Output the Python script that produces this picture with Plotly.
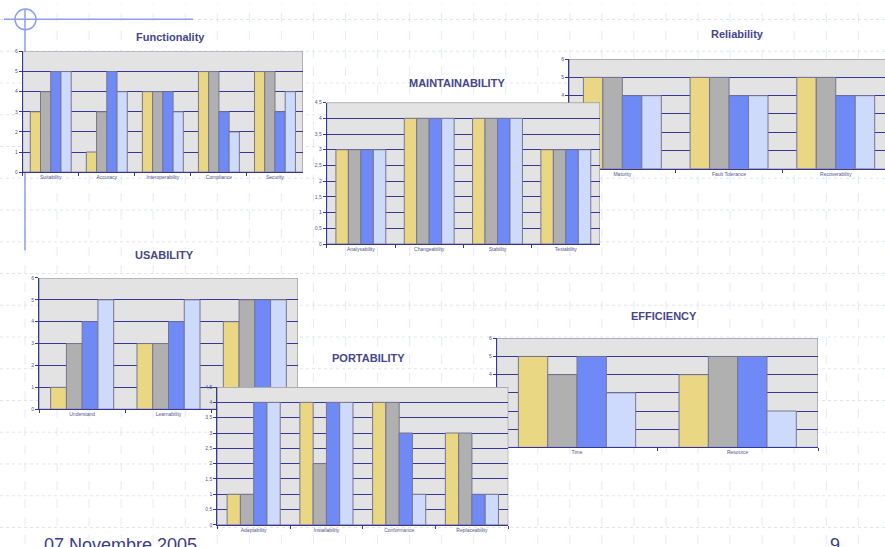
import plotly.graph_objects as go

W, H = 885, 547

# ---------------- data ----------------
series_names = ["S1", "S2", "S3", "S4"]

func_cats = ["Suitability", "Accuracy", "Interoperability", "Compliance", "Security"]
func_s1 = [3, 1, 4, 5, 5]
func_s2 = [4, 3, 4, 5, 5]
func_s3 = [5, 5, 4, 3, 3]
func_s4 = [5, 4, 3, 2, 4]

rel_cats = ["Maturity", "Fault Tolerance", "Recoverability"]
rel_s1 = [5, 5, 5]
rel_s2 = [5, 5, 5]
rel_s3 = [4, 4, 4]
rel_s4 = [4, 4, 4]

main_cats = ["Analysability", "Changeability", "Stability", "Testability"]
main_s1 = [3, 4, 4, 3]
main_s2 = [3, 4, 4, 3]
main_s3 = [3, 4, 4, 3]
main_s4 = [3, 4, 4, 3]

usa_cats = ["Understand", "Learnability", "Operability"]
usa_s1 = [1, 3, 4]
usa_s2 = [3, 3, 5]
usa_s3 = [4, 4, 5]
usa_s4 = [5, 5, 5]

eff_cats = ["Time", "Resource"]
eff_s1 = [5, 4]
eff_s2 = [4, 5]
eff_s3 = [5, 5]
eff_s4 = [3, 2]

port_cats = ["Adaptability", "Installability", "Conformance", "Replaceability"]
port_s1 = [1, 4, 4, 3]
port_s2 = [1, 2, 4, 3]
port_s3 = [4, 4, 3, 1]
port_s4 = [4, 4, 1, 1]

ticks6_vals = [0, 1, 2, 3, 4, 5, 6]
ticks6_text = ["0", "1", "2", "3", "4", "5", "6"]
ticks45_vals = [0, 0.5, 1, 1.5, 2, 2.5, 3, 3.5, 4, 4.5]
ticks45_text = ["0", "0,5", "1", "1,5", "2", "2,5", "3", "3,5", "4", "4,5"]

footer_date = "07 Novembre 2005"
footer_page = "9"

# ---------------- styles ----------------
FONT = "Liberation Sans, Arial, sans-serif"
NAVY = "#35359a"
TITLE_C = "#46468c"
LABEL_C = "#55558e"
PLOT_BG = "#e3e3e3"
BORDER = "#808088"
BAR_COLORS = ["#ead784", "#b0b0b0", "#6f8af6", "#cddafb"]
BAR_LINE = "#767690"

# chart boxes in pixels: (x_left, x_right, y_top, y_bottom)
charts = [
    dict(title="Functionality", cats=func_cats, s=[func_s1, func_s2, func_s3, func_s4],
         box=(22.7, 303, 49, 171), ymax=6, tv=ticks6_vals, tt=ticks6_text,
         title_xy=(170, 34), xend=None),
    dict(title="Reliability", cats=rel_cats, s=[rel_s1, rel_s2, rel_s3, rel_s4],
         box=(569, 885, 56.7, 167.7), ymax=6, tv=ticks6_vals, tt=ticks6_text,
         title_xy=(737, 31), xend=(885 - 569) / 106.7 - 0.5),
    dict(title="MAINTAINABILITY", cats=main_cats, s=[main_s1, main_s2, main_s3, main_s4],
         box=(326.7, 600, 100.7, 243.7), ymax=4.5, tv=ticks45_vals, tt=ticks45_text,
         title_xy=(457, 81), xend=None),
    dict(title="USABILITY", cats=usa_cats, s=[usa_s1, usa_s2, usa_s3, usa_s4],
         box=(39, 298, 278, 410.7), ymax=6, tv=ticks6_vals, tt=ticks6_text,
         title_xy=(164, 255), xend=None),
    dict(title="EFFICIENCY", cats=eff_cats, s=[eff_s1, eff_s2, eff_s3, eff_s4],
         box=(496.7, 818, 339, 449.3), ymax=6, tv=ticks6_vals, tt=ticks6_text,
         title_xy=(664, 316), xend=None),
    dict(title="PORTABILITY", cats=port_cats, s=[port_s1, port_s2, port_s3, port_s4],
         box=(217.3, 508.3, 388.3, 527.7), ymax=4.5, tv=ticks45_vals, tt=ticks45_text,
         title_xy=(368, 359), xend=None),
]


def px(x):
    return x / W


def py(y):
    return 1 - y / H


fig = go.Figure()
shapes = []
annotations = []

# background graph-paper lines (slide decoration)
xv = 25.0
while xv < W:
    shapes.append(dict(type="line", xref="paper", yref="paper", x0=px(xv), x1=px(xv),
                       y0=0, y1=1, layer="below",
                       line=dict(color="#e6e9fa", width=1, dash="dash")))
    xv += 32.05
yv = 16.7
while yv < H:
    shapes.append(dict(type="line", xref="paper", yref="paper", x0=0, x1=1,
                       y0=py(yv), y1=py(yv), layer="below",
                       line=dict(color="#e0e4f8", width=1, dash="dot")))
    yv += 32.1

# template ornament
ORN = "#8c9ff2"
shapes.append(dict(type="line", xref="paper", yref="paper", x0=px(4), x1=px(193),
                   y0=py(16.5), y1=py(16.5), layer="below", line=dict(color=ORN, width=1.5)))
shapes.append(dict(type="line", xref="paper", yref="paper", x0=px(25), x1=px(25),
                   y0=py(6), y1=py(250), layer="below", line=dict(color=ORN, width=1.5)))
shapes.append(dict(type="circle", xref="paper", yref="paper", x0=px(15), x1=px(36),
                   y0=py(27), y1=py(6), layer="below", line=dict(color=ORN, width=1.5)))

layout_axes = {}
for i, c in enumerate(charts, start=1):
    xid = "x" if i == 1 else f"x{i}"
    yid = "y" if i == 1 else f"y{i}"
    xkey = "xaxis" if i == 1 else f"xaxis{i}"
    ykey = "yaxis" if i == 1 else f"yaxis{i}"
    n = len(c["cats"])
    xl, xr, yt, yb = c["box"]
    xend = c["xend"] if c["xend"] is not None else n - 0.5

    for k in range(4):
        fig.add_trace(go.Bar(
            x=c["cats"], y=c["s"][k], name=series_names[k],
            xaxis=xid, yaxis=yid, showlegend=False,
            marker=dict(color=BAR_COLORS[k], line=dict(color=BAR_LINE, width=1)),
        ))

    layout_axes[xkey] = dict(
        domain=[px(xl), px(xr)], anchor=yid, type="category",
        range=[-0.5, xend], tickson="boundaries", ticks="outside", ticklen=3,
        tickcolor=NAVY, tickwidth=1, showline=True, linecolor=NAVY, linewidth=1,
        showgrid=False, tickfont=dict(size=5, color=LABEL_C, family=FONT),
        fixedrange=True, categoryorder="array", categoryarray=c["cats"],
    )
    layout_axes[ykey] = dict(
        domain=[py(yb), py(yt)], anchor=xid, range=[0, c["ymax"]],
        tickmode="array", tickvals=c["tv"], ticktext=c["tt"],
        ticks="outside", ticklen=3, tickcolor=NAVY, tickwidth=1,
        showline=True, linecolor=NAVY, linewidth=1,
        showgrid=True, gridcolor=NAVY, gridwidth=1, zeroline=False,
        tickfont=dict(size=5, color=LABEL_C, family=FONT), fixedrange=True,
    )
    # plot area background (inside the subplot group so later charts cover earlier ones)
    shapes.append(dict(type="rect", xref=xid, yref=yid, x0=-0.5, x1=n - 0.5,
                       y0=0, y1=c["ymax"], layer="below",
                       fillcolor=PLOT_BG, line=dict(color=BORDER, width=1)))
    tx, ty = c["title_xy"]
    annotations.append(dict(text=f"<b>{c['title']}</b>", xref="paper", yref="paper",
                            x=px(tx), y=py(ty), xanchor="center", yanchor="middle",
                            showarrow=False,
                            font=dict(size=11, color=TITLE_C, family=FONT)))

annotations.append(dict(text=footer_date, xref="paper", yref="paper",
                        x=px(42), y=py(536), xanchor="left", yanchor="top",
                        showarrow=False, font=dict(size=18, color="#3c3c8c", family=FONT)))
annotations.append(dict(text=footer_page, xref="paper", yref="paper",
                        x=px(834.5), y=py(536), xanchor="center", yanchor="top",
                        showarrow=False, font=dict(size=18, color="#3c3c8c", family=FONT)))

fig.update_layout(
    width=W, height=H, autosize=False,
    margin=dict(l=0, r=0, t=0, b=0, pad=0),
    paper_bgcolor="white", plot_bgcolor="rgba(0,0,0,0)",
    barmode="group", bargap=0.27, bargroupgap=0,
    showlegend=False, shapes=shapes, annotations=annotations,
    font=dict(family=FONT),
    **layout_axes,
)

fig.write_html("out.html", config=dict(displayModeBar=False, staticPlot=True))
